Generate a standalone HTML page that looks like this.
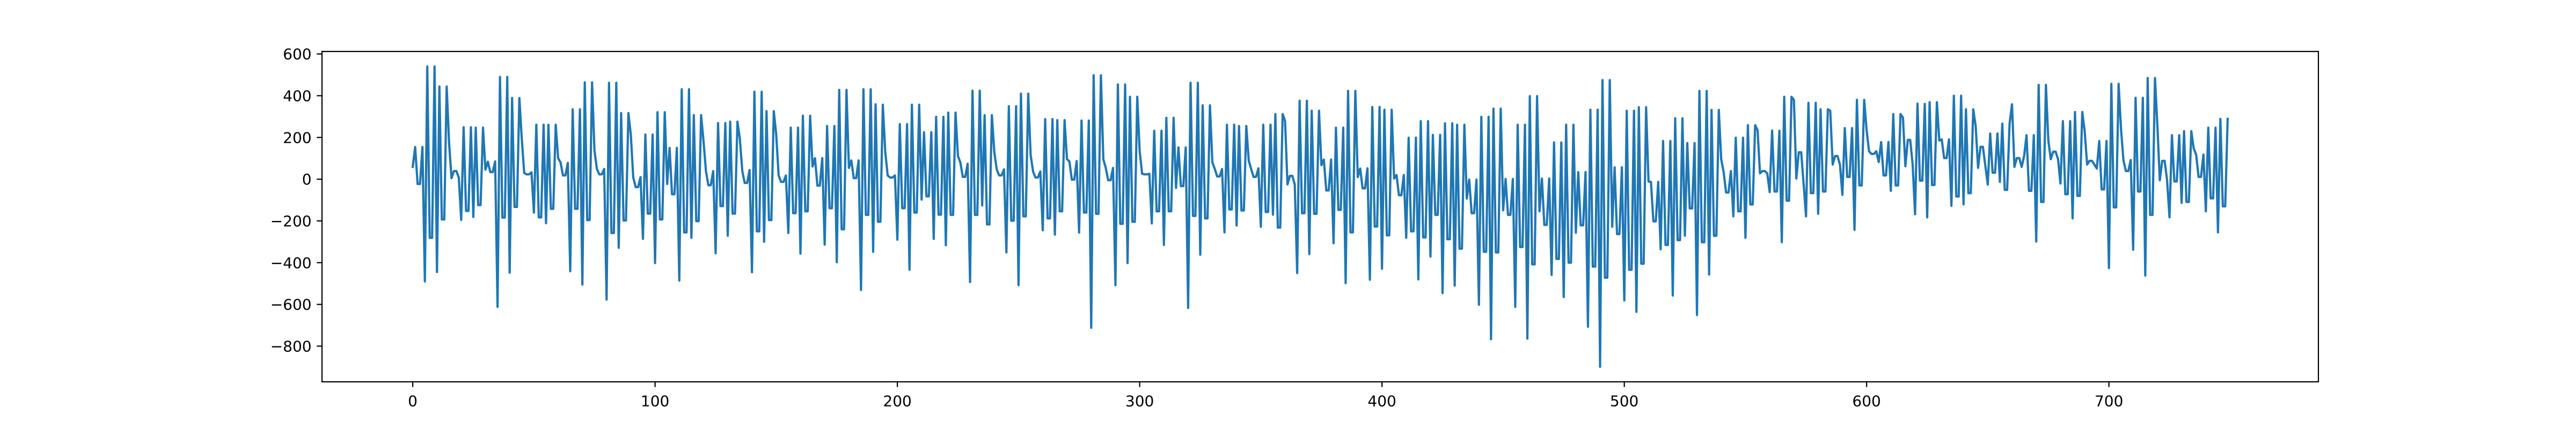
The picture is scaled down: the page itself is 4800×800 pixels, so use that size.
<!DOCTYPE html>
<html>
<head>
<meta charset="utf-8">
<style>
html,body{margin:0;padding:0;background:#fff;}
svg{display:block;}
text{font-family:"DejaVu Sans","Liberation Sans",sans-serif;font-size:28px;fill:#000;}
</style>
</head>
<body>
<svg id="chart" width="4800" height="800" viewBox="0 0 4800 800" xmlns="http://www.w3.org/2000/svg">
  <rect x="0" y="0" width="4800" height="800" fill="#fff"/>
  <g id="plot"></g>
</svg>
<script>
const seg0 = [59,154,-23,-23,154,-490,540,-281,-281,540,-445,444,-193,-193,444,173,5,39,39,8,-195,249,-152,-152,249,-181,247,-124,-124,247,46,84,34,34,85,-612,490,-184,-184,490,-448,389,-133,-133,389,194,30,23,23,33,-160,261,-183,-183,261,-211,261,-142,-142,261,101,80,18];
const seg1 = [18,78,-441,335,-142,-142,335,-505,464,-196,-196,464,137,49,23,23,49,-577,462,-258,-258,462,-329,317,-198,-198,317,214,8,-38,-38,10,-286,214,-165,-165,214,-402,321,-193,-193,321,-23,150,-72,-72,150,-486,431,-255,-255,431,-281,307,-201,-201,307,183,39,-29,-29,39,-355,269];
const seg2 = [-129,-129,269,-271,276,-165,-165,276,193,39,-18,-18,44,-446,419,-250,-250,419,-300,326,-196,-196,326,214,18,-13,-13,18,-258,247,-163,-163,247,-357,304,-154,-154,304,61,101,-31,-31,101,-314,255,-139,-139,255,-398,428,-240,-240,428,54,90,5,5,90,-531,431,-171,-171,431,-348,359];
const seg3 = [-204,-204,357,131,18,8,8,18,-290,264,-139,-139,264,-434,357,-160,-160,357,-98,225,-82,-82,225,-286,299,-170,-170,299,-317,319,-171,-171,319,111,80,11,11,74,-493,424,-171,-171,424,-126,307,-217,-217,307,131,47,18,18,47,-351,350,-199,-199,350,-508,410];
const seg4 = [-178,-178,410,116,37,8,8,37,-245,288,-188,-188,288,-266,283,-154,-154,283,96,85,-2,-2,87,-256,281,-160,-160,281,-712,498,-166,-166,498,96,54,-5,-5,54,-508,454,-214,-214,454,-402,395,-204,-204,395,134,26,23,23,26,-212,232,-154,-154,232,-315,294,-154,-154,294];
const seg5 = [-42,152,-33,-33,152,-617,462,-176,-176,462,-362,354,-188,-188,354,80,49,13,13,49,-255,261,-145,-145,261,-222,255,-150,-150,255,90,49,11,11,52,-228,261,-157,-157,261,-170,312,-232,-232,312,279,-25,16,16,-25,-450,376,-163,-163,376,-359,328,-166,-166,328];
const seg6 = [67,94,-54,-54,94,-307,247,-147,-147,247,-498,423,-255,-255,423,10,51,-44,-44,52,-482,346,-227,-227,346,-429,333,-269,-269,333,3,20,-77,-77,20,-281,199,-250,-250,199,-480,278,-279,-279,278,-371,212,-171,-171,212,-546,268,-288,-288,268,-510,261,-333,-333,261,-93,-2,-163,-163,-2];
const seg7 = [-602,299,-348,-348,299,-767,338,-351,-351,338,-149,1,-171,-171,1,-612,261,-325,-325,261,-764,398,-408,-408,398,-154,3,-219,-219,3,-459,176,-382,-382,176,-565,261,-400,-400,261,-257,34,-221,-221,34,-707,333,-419,-419,333,-899,475,-472,-472,475,-228,57,-263,-263,57,-581];
const seg8 = [328,-434,-434,328,-636,345,-405,-405,345,-11,-13,-202,-202,-13,-336,183,-315,-315,183,-558,292,-292,-292,292,-271,173,-140,-140,173,-651,423,-302,-302,423,-457,332,-271,-271,332,95,34,-64,-64,39,-178,199,-154,-154,199,-281,259,-121,-121,259,235,28,39,39,28,-62,233];
const seg9 = [-59,-59,232,-302,395,-103,-103,395,380,3,129,129,-23,-178,366,-67,-67,366,-166,335,-59,-59,335,328,70,111,111,70,-75,245,11,11,245,-243,380,-30,-30,380,235,134,121,121,134,82,178,18,18,178,-56,312,-30,-30,312,295,62,188,188,70,-168,362,-7,-7,361];
const seg10 = [-183,369,-28,-28,369,185,191,101,101,191,-128,400,-83,-83,400,-121,335,-67,-67,335,256,54,155,155,64,-26,219,31,31,219,-13,266,-51,-51,266,359,59,101,101,59,111,211,-56,-56,211,-299,452,-109,-109,452,185,96,132,132,96,-21,278,-72,-72,278,-188,322];
const seg11 = [-80,-80,322,230,70,88,88,70,51,183,-49,-49,183,-426,457,-135,-135,457,240,90,39,39,92,-338,390,-59,-59,390,-462,485,-171,-171,485,256,-5,88,88,-5,-183,211,-11,-11,211,-113,230,-109,-109,230,147,118,11,11,118,-154,247,-92,-92,247,-255,289,-130,-130,289];
const values = [].concat(seg0,seg1,seg2,seg3,seg4,seg5,seg6,seg7,seg8,seg9,seg10,seg11);
const xTicks = [0,100,200,300,400,500,600,700];
const yTicks = [-800,-600,-400,-200,0,200,400,600];
const xTickLabels = ["0","100","200","300","400","500","600","700"];
const yTickLabels = ["\u2212800","\u2212600","\u2212400","\u2212200","0","200","400","600"];

const NS = "http://www.w3.org/2000/svg";
const L = 600, R = 4320, T = 96, B = 712;
const n = values.length;
const xm = (n - 1) * 0.05;
const xMin = -xm, xMax = (n - 1) + xm;
const vMin = Math.min.apply(null, values), vMax = Math.max.apply(null, values);
const ym = (vMax - vMin) * 0.05;
const yMin = vMin - ym, yMax = vMax + ym;
function xScale(i){ return L + (i - xMin) / (xMax - xMin) * (R - L); }
function yScale(v){ return B - (v - yMin) / (yMax - yMin) * (B - T); }

const plot = document.getElementById('plot');
function mk(tag, attrs){ const e = document.createElementNS(NS, tag); for (const k in attrs) e.setAttribute(k, attrs[k]); return e; }

// series line
let d = '';
values.forEach(function(v, i){ d += (i ? 'L' : 'M') + xScale(i).toFixed(2) + ',' + yScale(v).toFixed(2); });
const line = mk('path', {d: d, fill: 'none', stroke: '#1f77b4', 'stroke-width': 4.17, 'stroke-linejoin': 'round', 'stroke-linecap': 'square'});


const clip = mk('clipPath', {id: 'axclip'});
clip.appendChild(mk('rect', {x: L, y: T, width: R - L, height: B - T}));
plot.appendChild(clip);
line.setAttribute('clip-path', 'url(#axclip)');
plot.appendChild(line);

// spines
const frame = mk('rect', {x: L, y: T, width: R - L, height: B - T, fill: 'none', stroke: '#000', 'stroke-width': 2.2});


plot.appendChild(frame);

// x ticks
xTicks.forEach(function(t, k){
  const x = xScale(t);
  const tk = mk('line', {x1: x, x2: x, y1: B, y2: B + 9.7, stroke: '#000', 'stroke-width': 2.2});
  
  
  plot.appendChild(tk);
  const tx = mk('text', {x: x, y: B + 19.4 + 26, 'text-anchor': 'middle'});
  tx.textContent = xTickLabels[k];
  
  
  plot.appendChild(tx);
});

// y ticks
yTicks.forEach(function(t, k){
  const y = yScale(t);
  const tk = mk('line', {x1: L - 9.7, x2: L, y1: y, y2: y, stroke: '#000', 'stroke-width': 2.2});
  
  
  plot.appendChild(tk);
  const tx = mk('text', {x: L - 19.4, y: y + 10, 'text-anchor': 'end'});
  tx.textContent = yTickLabels[k];
  
  
  plot.appendChild(tx);
});
</script>
</body>
</html>
